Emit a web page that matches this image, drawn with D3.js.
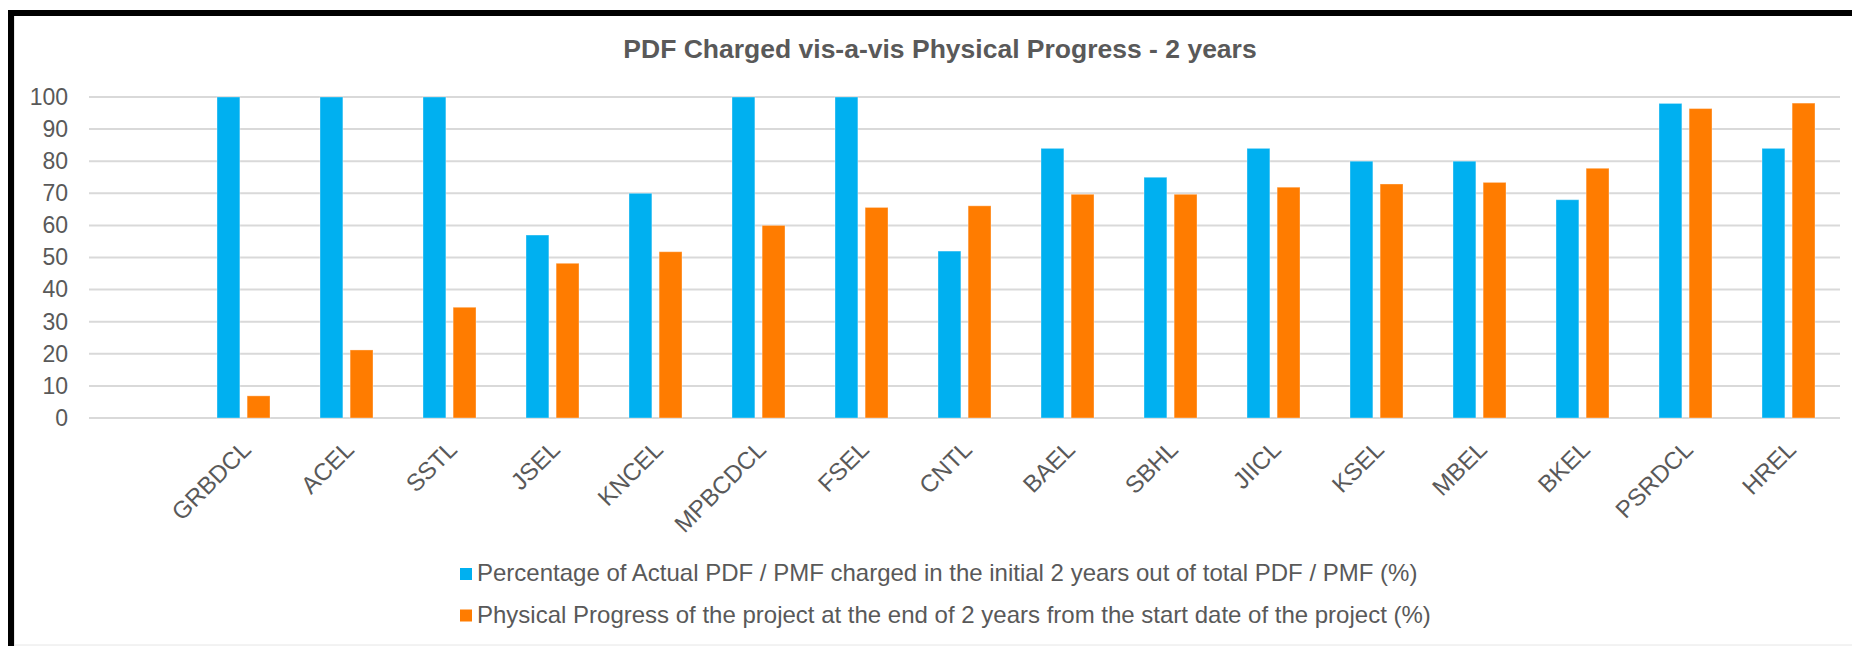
<!DOCTYPE html>
<html>
<head>
<meta charset="utf-8">
<script src="https://cdn.jsdelivr.net/npm/d3@7"></script>
<style>
  body { margin: 0; background: #fff; }
  svg text { font-family: "Liberation Sans", Arial, sans-serif; fill: #595959; }
</style>
</head>
<body>
<div id="chart"></div>
<script>
"use strict";

// first slot is an empty category, as in the source sheet
var categories = ["", "GRBDCL", "ACEL", "SSTL", "JSEL", "KNCEL", "MPBCDCL", "FSEL", "CNTL",
  "BAEL", "SBHL", "JIICL", "KSEL", "MBEL", "BKEL", "PSRDCL", "HREL"];
var pdfCharged = [null, 100, 100, 100, 57, 70, 100, 100, 52, 84, 75, 84, 80, 80, 68, 98, 84];
var physicalProgress = [null, 6.9, 21.2, 34.5, 48.2, 51.8, 60, 65.6, 66.1, 69.7, 69.7, 71.9, 72.9, 73.4, 77.8, 96.4, 98.1];
var yTicks = [0, 10, 20, 30, 40, 50, 60, 70, 80, 90, 100];
var seriesNames = [
  "Percentage of Actual PDF / PMF charged in the initial 2 years out of total PDF / PMF (%)",
  "Physical Progress of the project at the end of 2 years from the start date of the project (%)"
];
var seriesColors = ["#00B0F0", "#FF7C00"];

var width = 1852, height = 646;

var svg = d3.select("#chart").append("svg")
  .attr("width", width)
  .attr("height", height);

// frame
svg.append("path")
  .attr("d", "M14.5,646 V16 M14,645 H1852")
  .attr("stroke", "#e6e6e6").attr("stroke-width", 1).attr("fill", "none");
svg.append("path")
  .attr("d", "M11,646 V13 H1852")
  .attr("stroke", "#000").attr("stroke-width", 6).attr("fill", "none");

svg.append("text")
  .attr("x", 940).attr("y", 58)
  .attr("text-anchor", "middle")
  .style("font-size", "26.5px").style("font-weight", "bold")
  .text("PDF Charged vis-a-vis Physical Progress - 2 years");

var x0 = d3.scaleBand().domain(d3.range(categories.length)).range([89, 1840]).padding(0);
var x1 = d3.scaleBand().domain([0, 1])
  .range([x0.bandwidth() / 2 - 26.5, x0.bandwidth() / 2 + 26.5]).paddingInner(0.24);
var y = d3.scaleLinear().domain([0, 100]).range([418, 97]);

// gridlines
svg.append("g").selectAll("line")
  .data(yTicks).enter().append("line")
  .attr("x1", 89).attr("x2", 1840)
  .attr("y1", function(d) { return y(d); })
  .attr("y2", function(d) { return y(d); })
  .attr("stroke", "#d9d9d9").attr("stroke-width", 2);

var yAxis = svg.append("g")
  .attr("transform", "translate(68,0)")
  .call(d3.axisLeft(y).tickValues(yTicks).tickSize(0).tickPadding(0));
yAxis.select(".domain").remove();
yAxis.selectAll("text")
  .style("font-size", "23px").style("font-family", "Liberation Sans, Arial, sans-serif")
  .attr("fill", "#595959");

var series = [pdfCharged, physicalProgress];
series.forEach(function(values, s) {
  svg.append("g").selectAll("rect")
    .data(values.map(function(v, i) { return {i: i, v: v}; }).filter(function(d) { return d.v != null; }))
    .enter().append("rect")
    .attr("x", function(d) { return x0(d.i) + x1(s); })
    .attr("width", x1.bandwidth())
    .attr("y", function(d) { return y(d.v); })
    .attr("height", function(d) { return y(0) - y(d.v); })
    .attr("fill", seriesColors[s])
    .attr("stroke", "#ffffff").attr("stroke-opacity", 0.35).attr("stroke-width", 1);
});

// category labels, rotated
svg.append("g").selectAll("text")
  .data(categories).enter().append("text")
  .attr("text-anchor", "end")
  .attr("dy", "0.35em")
  .style("font-size", "24px")
  .attr("transform", function(d, i) {
    var cx = x0(i) + x0.bandwidth() / 2 + 3;
    return "translate(" + cx + ",445) rotate(-45)";
  })
  .text(function(d) { return d; });

// legend
var legend = svg.append("g").selectAll("g")
  .data(seriesNames).enter().append("g")
  .attr("transform", function(d, i) { return "translate(460," + (568 + i * 41.5) + ")"; });
legend.append("rect")
  .attr("width", 12).attr("height", 12)
  .attr("fill", function(d, i) { return seriesColors[i]; });
legend.append("text")
  .attr("x", 17).attr("y", 13)
  .style("font-size", "24px")
  .text(function(d) { return d; });
</script>
</body>
</html>
